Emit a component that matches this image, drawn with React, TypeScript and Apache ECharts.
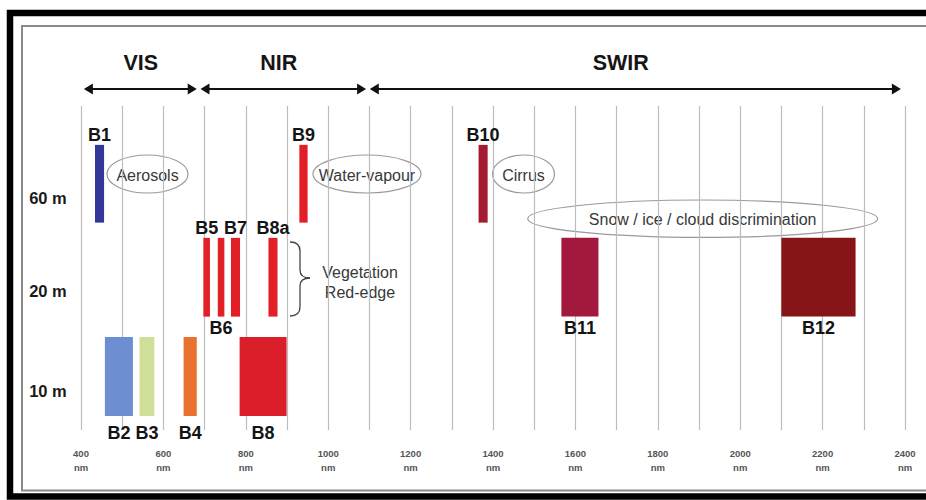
import React, { useEffect, useRef } from "react";
import * as echarts from "echarts";

// Spatial resolution rows (y axis in arbitrary 0..100 units)
const rowNames = ["60 m", "20 m", "10 m"];
const rowTop = [88, 59.3, 28.7];
const rowBottom = [64, 35, 4.3];

// Spectral bands
const bandNames = ["B1", "B2", "B3", "B4", "B5", "B6", "B7", "B8", "B8a", "B9", "B10", "B11", "B12"];
const bandCenter = [445, 492, 560, 665, 705, 740, 775, 842, 866, 940, 1376, 1611, 2190];
const bandWidth = [22, 68, 36, 32, 16, 16, 22, 114, 22, 20, 22, 90, 180];
const bandRow = [0, 2, 2, 2, 1, 1, 1, 2, 1, 0, 0, 1, 1];
const bandLabelSide = ["top", "bottom", "bottom", "bottom", "top", "bottom", "top", "bottom", "top", "top", "top", "bottom", "bottom"];
const bandColor = ["#33379a", "#6d8fd2", "#cfdf99", "#ea7230", "#e21f26", "#e21f26", "#e21f26", "#da1f2b", "#e21f26", "#e21f26", "#a31a31", "#a3183d", "#871517"];

// Spectral regions
const regionNames = ["VIS", "NIR", "SWIR"];
const regionStart = [407, 690, 1101];
const regionEnd = [681, 1092, 2390];
const regionLabelAt = [545, 880, 1710];

// x axis ticks
const xMin = 400;
const xMax = 2400;
const gridStep = 100;
const labelStep = 200;

const FONT = '"Liberation Sans", Arial, sans-serif';

export default function App() {
  const ref = useRef<HTMLDivElement>(null);

  useEffect(() => {
    if (!ref.current) return;
    const chart = echarts.init(ref.current, undefined, { renderer: "svg" });

    const bandData = bandNames.map((n, i) => [
      bandCenter[i] - bandWidth[i] / 2,
      bandCenter[i] + bandWidth[i] / 2,
      bandRow[i],
      i,
    ]);

    const regionData = regionNames.map((n, i) => [regionStart[i], regionEnd[i], regionLabelAt[i], i]);
    const rowData = rowNames.map((n, i) => [xMin, (rowTop[i] + rowBottom[i]) / 2, i]);

    const arrowY = 89;
    const head = (tipX: number, dir: number) => ({
      type: "polygon",
      shape: { points: [[tipX, arrowY], [tipX + dir * 9, arrowY - 5.5], [tipX + dir * 9, arrowY + 5.5]] },
      style: { fill: "#111" },
    });

    const annText = (text: string, x: number, y: number) => ({
      type: "text",
      style: { text, x, y, align: "center", verticalAlign: "middle", fontSize: 16, fontFamily: FONT, fill: "#383838" },
    });
    const ell = (cx: number, cy: number, rx: number, ry: number) => ({
      type: "ellipse",
      shape: { cx, cy, rx, ry },
      style: { fill: "none", stroke: "#9a9a9a", lineWidth: 1.2 },
    });

    const option: any = {
      animation: false,
      backgroundColor: "#ffffff",
      grid: { left: 81, right: 21, top: 106, bottom: 70 },
      xAxis: {
        type: "value",
        min: xMin,
        max: xMax,
        interval: gridStep,
        axisLine: { show: false },
        axisTick: { show: false },
        splitLine: { show: true, lineStyle: { color: "#bdbdbd", width: 1.2 } },
        axisLabel: {
          showMinLabel: true,
          showMaxLabel: true,
          margin: 16,
          fontSize: 9.5,
          fontWeight: "bold",
          fontFamily: FONT,
          color: "#555",
          lineHeight: 14,
          formatter: (v: number) => (v % labelStep === 0 ? `${v}\nnm` : ""),
        },
      },
      yAxis: { type: "value", min: 0, max: 100, show: false, splitLine: { show: false } },
      series: [
        {
          type: "custom",
          name: "bands",
          clip: false,
          data: bandData,
          encode: { x: [0, 1] },
          renderItem: (params: any, api: any) => {
            const x0 = api.value(0);
            const x1 = api.value(1);
            const row = api.value(2);
            const i = api.value(3);
            const p0 = api.coord([x0, rowTop[row]]);
            const p1 = api.coord([x1, rowBottom[row]]);
            const cx = (p0[0] + p1[0]) / 2;
            const side = bandLabelSide[i];
            const ly = side === "top" ? p0[1] - 10 : p1[1] + (row === 2 ? 17 : 11);
            return {
              type: "group",
              children: [
                {
                  type: "rect",
                  shape: { x: p0[0], y: p0[1], width: p1[0] - p0[0], height: p1[1] - p0[1] },
                  style: { fill: bandColor[i] },
                },
                {
                  type: "text",
                  style: {
                    text: bandNames[i],
                    x: cx,
                    y: ly,
                    align: "center",
                    verticalAlign: "middle",
                    fontSize: 18,
                    fontWeight: "bold",
                    fontFamily: FONT,
                    fill: "#141414",
                  },
                },
              ],
            };
          },
        },
        {
          type: "custom",
          name: "regions",
          clip: false,
          data: regionData,
          encode: { x: [0, 1] },
          renderItem: (params: any, api: any) => {
            const xs = api.coord([api.value(0), 50])[0];
            const xe = api.coord([api.value(1), 50])[0];
            const xl = api.coord([api.value(2), 50])[0];
            const i = api.value(3);
            return {
              type: "group",
              children: [
                {
                  type: "line",
                  shape: { x1: xs + 4, y1: arrowY, x2: xe - 4, y2: arrowY },
                  style: { stroke: "#111", lineWidth: 2 },
                },
                head(xs, 1),
                head(xe, -1),
                {
                  type: "text",
                  style: {
                    text: regionNames[i],
                    x: xl,
                    y: 63,
                    align: "center",
                    verticalAlign: "middle",
                    fontSize: 21.5,
                    fontWeight: "bold",
                    fontFamily: FONT,
                    fill: "#151515",
                  },
                },
              ],
            };
          },
        },
        {
          type: "custom",
          name: "rows",
          clip: false,
          data: rowData,
          encode: { y: 1 },
          renderItem: (params: any, api: any) => {
            const p = api.coord([api.value(0), api.value(1)]);
            const i = api.value(2);
            return {
              type: "text",
              style: {
                text: rowNames[i],
                x: 48,
                y: p[1] + 14,
                align: "center",
                verticalAlign: "middle",
                fontSize: 16.5,
                fontWeight: "bold",
                fontFamily: FONT,
                fill: "#1a1a1a",
              },
            };
          },
        },
      ],
      graphic: [
        // frame
        {
          type: "rect",
          shape: { x: 10, y: 13, width: 1000, height: 483.5 },
          style: { fill: "none", stroke: "#000", lineWidth: 6.5 },
          silent: true,
        },
        {
          type: "rect",
          shape: { x: 22, y: 26, width: 1000, height: 464.5 },
          style: { fill: "none", stroke: "#8a8a8a", lineWidth: 2 },
          silent: true,
        },
        // annotation ellipses
        ell(147.5, 174, 40.5, 19),
        annText("Aerosols", 147.5, 175),
        ell(367, 174, 54, 19),
        annText("Water-vapour", 367, 175),
        ell(523.5, 174, 31, 19),
        annText("Cirrus", 523.5, 175),
        ell(702.7, 218.7, 175, 18.7),
        annText("Snow / ice / cloud discrimination", 702.7, 219),
        // brace
        {
          type: "group",
          children: [
            { type: "bezierCurve", shape: { x1: 290, y1: 242, x2: 300, y2: 251, cpx1: 300, cpy1: 242 }, style: { stroke: "#444", lineWidth: 1.3, fill: "none" } },
            { type: "line", shape: { x1: 300, y1: 251, x2: 300, y2: 270 }, style: { stroke: "#444", lineWidth: 1.3 } },
            { type: "bezierCurve", shape: { x1: 300, y1: 270, x2: 310, y2: 278, cpx1: 300, cpy1: 278 }, style: { stroke: "#444", lineWidth: 1.3, fill: "none" } },
            { type: "bezierCurve", shape: { x1: 310, y1: 278, x2: 300, y2: 286, cpx1: 300, cpy1: 278 }, style: { stroke: "#444", lineWidth: 1.3, fill: "none" } },
            { type: "line", shape: { x1: 300, y1: 286, x2: 300, y2: 307 }, style: { stroke: "#444", lineWidth: 1.3 } },
            { type: "bezierCurve", shape: { x1: 300, y1: 307, x2: 290, y2: 316, cpx1: 300, cpy1: 316 }, style: { stroke: "#444", lineWidth: 1.3, fill: "none" } },
          ],
        },
        annText("Vegetation", 360, 272),
        annText("Red-edge", 360, 292),
      ],
    };

    chart.setOption(option);
    return () => chart.dispose();
  }, []);

  return (
    <div
      ref={ref}
      style={{ position: "fixed", left: 0, top: 0, width: 926, height: 500, background: "#fff" }}
    />
  );
}
